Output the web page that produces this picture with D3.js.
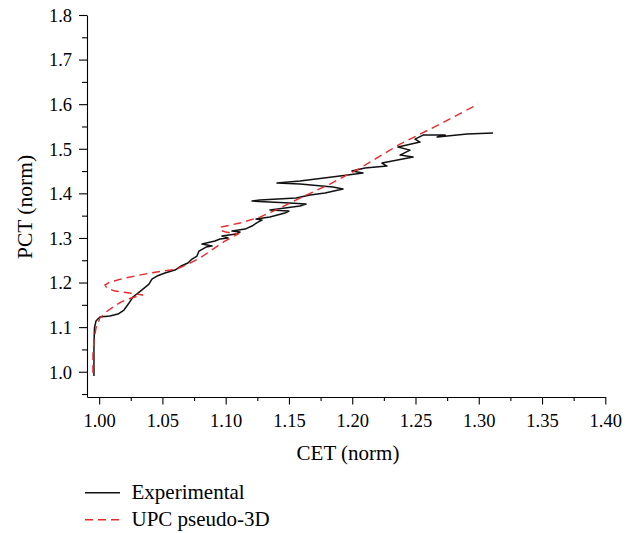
<!DOCTYPE html>
<html>
<head>
<meta charset="utf-8">
<script src="https://cdn.jsdelivr.net/npm/d3@7"></script>
<style>
  html, body { margin: 0; padding: 0; background: #fff; }
  svg { display: block; }
  text { font-family: "Liberation Serif", "Times New Roman", serif; fill: #000; }
</style>
</head>
<body>
<svg id="chart" width="638" height="533"></svg>
<script>
// Measured curve: normalised CET vs normalised PCT
const expCET = [0.9959, 0.9959, 0.9963, 0.9975, 1.0006, 1.0085, 1.0149, 1.0196, 1.0236, 1.0267,
  1.0307, 1.0346, 1.0394, 1.0417, 1.0457, 1.0520, 1.0599, 1.0647, 1.0702, 1.0734,
  1.0773, 1.0789, 1.0845, 1.0892, 1.0813, 1.0915, 1.0955, 1.1018, 1.0971, 1.1081,
  1.1113, 1.1050, 1.1153, 1.1208, 1.1255, 1.1287, 1.1240, 1.1350, 1.1468, 1.1500,
  1.1350, 1.1587, 1.1635, 1.1508, 1.1208, 1.1271, 1.1556, 1.1667, 1.1785, 1.1927,
  1.1848, 1.1587, 1.1405, 1.1587, 1.1903, 1.2085, 1.1998, 1.2101, 1.2275, 1.2235,
  1.2481, 1.2378, 1.2457, 1.2362, 1.2536, 1.2496, 1.2560, 1.2734, 1.2671, 1.2908,
  1.3113];
const expPCT = [0.9904, 1.0599, 1.0980, 1.1137, 1.1226, 1.1249, 1.1294, 1.1383, 1.1540, 1.1675,
  1.1764, 1.1854, 1.1966, 1.2078, 1.2146, 1.2213, 1.2280, 1.2370, 1.2437, 1.2527,
  1.2594, 1.2706, 1.2796, 1.2818, 1.2863, 1.2930, 1.2975, 1.2997, 1.3042, 1.3087,
  1.3132, 1.3154, 1.3199, 1.3267, 1.3356, 1.3401, 1.3423, 1.3468, 1.3558, 1.3603,
  1.3625, 1.3715, 1.3760, 1.3782, 1.3827, 1.3850, 1.3894, 1.3962, 1.4007, 1.4096,
  1.4141, 1.4208, 1.4231, 1.4276, 1.4388, 1.4455, 1.4500, 1.4567, 1.4612, 1.4679,
  1.4814, 1.4858, 1.4970, 1.5038, 1.5150, 1.5218, 1.5307, 1.5307, 1.5262, 1.5329,
  1.5352];

// Simulated curve (UPC pseudo-3D)
const upcCET = [0.9951, 0.9951, 0.9959, 0.9975, 1.0006, 1.0054, 1.0109, 1.0172, 1.0228, 1.0283,
  1.0346, 1.0243, 1.0125, 1.0062, 1.0046, 1.0085, 1.0204, 1.0402, 1.0615, 1.0718,
  1.0797, 1.0900, 1.0994, 1.1097, 1.1002, 1.0955, 1.0963, 1.1113, 1.1271, 1.1429,
  1.1587, 1.1824, 1.2062, 1.2378, 1.2694, 1.2994];
const upcPCT = [0.9971, 1.0374, 1.0711, 1.0978, 1.1204, 1.1338, 1.1450, 1.1562, 1.1630, 1.1675,
  1.1720, 1.1764, 1.1809, 1.1876, 1.1943, 1.2011, 1.2101, 1.2213, 1.2303, 1.2437,
  1.2549, 1.2751, 1.2930, 1.3087, 1.3132, 1.3177, 1.3244, 1.3334, 1.3468, 1.3670,
  1.3894, 1.4208, 1.4567, 1.5105, 1.5553, 1.6002];

const xTicks = [1.00, 1.05, 1.10, 1.15, 1.20, 1.25, 1.30, 1.35, 1.40];
const xMinor = [1.025, 1.075, 1.125, 1.175, 1.225, 1.275, 1.325, 1.375];
const yTicks = [1.0, 1.1, 1.2, 1.3, 1.4, 1.5, 1.6, 1.7, 1.8];
const yMinor = [0.95, 1.05, 1.15, 1.25, 1.35, 1.45, 1.55, 1.65, 1.75];

const seriesNames = ["Experimental", "UPC pseudo-3D"];
const xTitle = "CET (norm)";
const yTitle = "PCT (norm)";

const svg = d3.select("#chart");

const x = d3.scaleLinear().domain([0.9904, 1.40]).range([87, 605.3]);
const y = d3.scaleLinear().domain([0.9433, 1.8]).range([397, 15]);

const tickFont = "18.5px";

// x axis
const gx = svg.append("g").attr("transform", "translate(0,397)");
gx.call(d3.axisBottom(x).tickValues(xTicks).tickSize(7.5).tickSizeOuter(0)
  .tickFormat(d3.format(".2f")));
gx.append("g").call(d3.axisBottom(x).tickValues(xMinor).tickSize(4).tickFormat(""))
  .select(".domain").remove();
gx.selectAll("text").attr("y", 30).attr("dy", null)
  .style("font-size", tickFont).style("font-family", "Liberation Serif");

// y axis
const gy = svg.append("g").attr("transform", "translate(87,0)");
gy.call(d3.axisLeft(y).tickValues(yTicks).tickSize(8).tickSizeOuter(0)
  .tickFormat(d3.format(".1f")));
gy.append("g").call(d3.axisLeft(y).tickValues(yMinor).tickSize(5).tickFormat(""))
  .select(".domain").remove();
gy.selectAll("text").attr("x", -15).attr("dy", "0.34em")
  .style("font-size", tickFont).style("font-family", "Liberation Serif");

svg.selectAll(".domain, .tick line").attr("stroke", "#000").attr("stroke-width", 1.1);

// titles
svg.append("text").attr("x", 348).attr("y", 460).attr("text-anchor", "middle")
  .style("font-size", "21px").text(xTitle);
svg.append("text").attr("transform", "translate(32,207) rotate(-90)")
  .attr("text-anchor", "middle").style("font-size", "21.5px").text(yTitle);

// curves
const line = d3.line().x(d => x(d[0])).y(d => y(d[1]));
const expData = expCET.map((c, i) => [c, expPCT[i]]);
const upcData = upcCET.map((c, i) => [c, upcPCT[i]]);

svg.append("path").datum(expData).attr("d", line)
  .attr("fill", "none").attr("stroke", "#111").attr("stroke-width", 1.5)
  .attr("stroke-linejoin", "round");
svg.append("path").datum(upcData).attr("d", line)
  .attr("fill", "none").attr("stroke", "#e8282b").attr("stroke-width", 1.4)
  .attr("stroke-dasharray", "8,5");

// legend
const legend = svg.append("g");
const styles = [
  { stroke: "#111", dash: null },
  { stroke: "#e8282b", dash: "8,5" }
];
seriesNames.forEach((name, i) => {
  const ly = 492.7 + i * 27;
  legend.append("line").attr("x1", 85).attr("x2", 120).attr("y1", ly).attr("y2", ly)
    .attr("stroke", styles[i].stroke).attr("stroke-width", 1.4)
    .attr("stroke-dasharray", styles[i].dash);
  legend.append("text").attr("x", 131.5).attr("y", ly + 5.8)
    .style("font-size", "21px").text(name);
});
</script>
</body>
</html>
